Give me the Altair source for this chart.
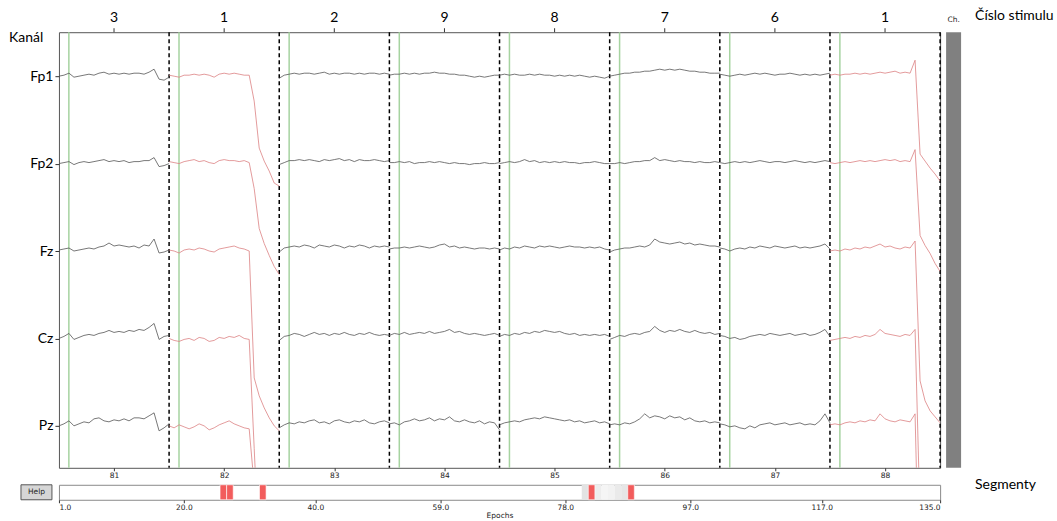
import json
import pandas as pd
import altair as alt

# ---------------- data ----------------
CHANNELS = ["Fp1", "Fp2", "Fz", "Cz", "Pz"]
EPOCHS = [81, 82, 83, 84, 85, 86, 87, 88]
STIMULI = ["3", "1", "2", "9", "8", "7", "6", "1"]
REJECTED = [82, 88]
STIM_ONSET = 0.09          # stimulus onset, fraction of an epoch
SEG_RANGE = [1, 135]
SEG_TICKS = [1.0, 20.0, 40.0, 59.0, 78.0, 97.0, 117.0, 135.0]
SEG_REJECTED = [26, 27, 32, 82, 88]
SEG_WINDOW = [81, 82, 83, 84, 85, 86, 87, 88]

# amplitudes (screen-px units, up = positive), 23 samples per epoch
FP1 = [
    [0, 1, 3, -1, 0, 1, 2, 1, 3, 4, 2, 3, 2, 3, 2, 3, 3, 2, 4, 7, -3, -4, -1],
    [1, 0, -1, 1, 1, 2, 1, 2, 1, -1, 2, 3, 2, 3, 2, 1, 1, -25, -72, -85, -95, -107, -110],
    [-2, 1, 2, 3, 2, 3, 3, 2, 3, 4, 2, 3, 2, 3, 3, 2, 3, 2, 3, 3, 2, 3, 2],
    [1, 2, 2, 3, 2, 3, 2, 3, 3, 4, 3, 3, 2, 2, 1, 1, 0, -1, 0, -1, 0, 1, 1],
    [1, 2, 1, 2, 1, 1, 2, 1, 2, 1, 1, 0, 1, 0, 1, 0, 1, 0, -1, 0, -1, -2, 0],
    [0, 1, 2, 3, 3, 4, 4, 5, 5, 6, 7, 6, 7, 6, 7, 6, 5, 5, 4, 4, 3, 3, 3],
    [2, 1, 0, 1, 2, 1, 2, 3, 2, 3, 2, 1, 2, 2, 3, 2, 1, 2, 1, 2, 1, 2, 3],
    [1, 2, 1, 2, 2, 3, 2, 3, 2, 3, 4, 3, 4, 5, 3, 4, 3, 16, -78, -85, -92, -98, -105],
]
FP2 = [
    [0, 1, 2, -1, 1, 2, 1, 2, 3, 4, 2, 3, 2, 3, 1, 2, 2, 3, 3, 6, -3, -2, 0],
    [2, 1, 0, 2, 3, 4, 2, 3, 1, 0, 3, 4, 3, 3, 2, 3, 1, -25, -65, -80, -92, -103, -111],
    [-1, 1, 3, 3, 4, 3, 4, 3, 2, 4, 3, 4, 5, 3, 4, 2, 4, 3, 3, 4, 3, 2, 3],
    [1, 1, 2, 1, 2, 0, 1, 1, 2, 1, 2, 1, 0, 1, 0, 0, -1, 0, 0, 1, 0, 0, 1],
    [0, 1, 2, 1, 2, 4, 2, 3, 1, 2, 1, 2, 1, 2, 1, 1, 0, 1, 1, 2, 1, 0, 0],
    [0, 0, 1, 0, 1, 2, 2, 3, 3, 6, 3, 4, 3, 2, 3, 2, 2, 1, 2, 1, 1, 2, 1],
    [1, 0, 1, 2, 1, 2, 1, 2, 3, 2, 1, 2, 2, 1, 2, 3, 2, 1, 2, 1, 2, 3, 2],
    [1, 0, 1, 2, 1, 2, 3, 2, 3, 2, 3, 4, 3, 4, 2, 3, 2, 14, -72, -82, -90, -100, -108],
]
FZ = [
    [1, 2, 3, 0, 1, 2, 3, 2, 4, 5, 8, 5, 6, 5, 4, 5, 3, 6, 5, 12, -2, -1, 1],
    [1, 0, -2, 1, 2, 1, 3, 2, 0, -1, 2, 3, 4, 5, 3, 2, 0, -127, -145, -157, -167, -175, -180],
    [-1, 3, 4, 5, 4, 6, 5, 3, 6, 5, 4, 6, 5, 3, 5, 4, 6, 5, 3, 5, 4, 5, 4],
    [2, 3, 3, 4, 3, 4, 5, 4, 3, 4, 6, 7, 4, 5, 3, 4, 3, 2, 3, 3, 2, 3, 2],
    [1, 3, 2, 4, 3, 5, 4, 3, 5, 4, 5, 4, 3, 4, 5, 4, 4, 3, 4, 3, 4, 2, 1],
    [-1, 1, 2, 3, 3, 4, 5, 4, 6, 12, 9, 8, 7, 8, 9, 7, 8, 6, 7, 6, 5, 5, 4],
    [3, 2, 0, 2, 3, 2, 4, 3, 5, 4, 3, 5, 4, 3, 4, 5, 3, 4, 3, 4, 5, 7, 2],
    [0, 1, 0, 2, 1, 3, 2, 4, 3, 5, 7, 4, 5, 3, 2, 4, 3, 10, -130, -150, -160, -166, -172],
]
CZ = [
    [0, 2, 5, -1, 1, 3, 4, 3, 5, 6, 8, 6, 7, 6, 8, 7, 9, 8, 11, 15, -1, 2, 3],
    [0, -2, -3, -1, 0, -2, 1, 0, -3, -2, 1, 0, 2, 1, 3, 0, -1, -110, -220, -240, -250, -255, -260],
    [-2, 2, 3, 5, 4, 2, 4, 6, 4, 5, 3, 5, 4, 6, 4, 3, 5, 4, 6, 4, 3, 4, 3],
    [3, 5, 4, 6, 4, 5, 6, 5, 7, 5, 6, 7, 9, 6, 7, 5, 4, 5, 4, 3, 4, 5, 3],
    [2, 4, 3, 5, 4, 6, 5, 7, 6, 8, 7, 6, 7, 5, 4, 5, 3, 4, 3, 4, 3, 4, 2],
    [-1, 1, 3, 2, 4, 5, 4, 6, 7, 12, 8, 6, 8, 7, 9, 7, 6, 8, 6, 5, 6, 4, 5],
    [3, 2, 0, 1, -1, 0, 2, 3, 4, 3, 5, 4, 3, 4, 5, 3, 4, 5, 3, 4, 6, 9, 2],
    [-2, -1, 0, 1, 0, 2, 1, 3, 2, 4, 9, 5, 4, 3, 2, 4, 3, 9, -180, -220, -230, -240, -250],
]
PZ = [
    [0, 2, 5, 0, 2, 4, 3, 7, 8, 5, 4, 6, 5, 7, 5, 8, 8, 7, 10, 13, -5, -2, 2],
    [0, -2, 1, -1, -3, -1, 2, 0, -4, -2, 1, 3, 5, 2, 0, -2, -3, -60, -220, -240, -250, -260, -270],
    [-2, 1, 3, 2, 4, 3, 5, 6, 3, 4, 2, 5, 6, 4, 3, 5, 4, 6, 3, 2, 4, 5, 3],
    [2, 3, 1, 4, 5, 7, 5, 6, 8, 5, 7, 6, 9, 5, 4, 6, 4, 3, 5, 2, 4, 3, -4],
    [1, 3, 4, 5, 4, 6, 7, 8, 7, 9, 8, 7, 6, 5, 6, 4, 5, 3, 4, 5, 3, 4, 2],
    [1, 2, 1, 3, 2, 4, 7, 12, 8, 10, 9, 7, 10, 8, 9, 6, 8, 5, 4, 5, 3, 4, 3],
    [2, 1, -1, 0, -2, -3, 0, -2, 1, 2, 3, 1, 2, 3, 1, 2, 3, 1, 2, 1, 5, 12, 3],
    [1, 2, 1, 3, 4, 3, 5, 4, 6, 5, 12, 7, 5, 4, 6, 5, 4, 12, -200, -230, -240, -250, -260],
]

# ---------------- layout / style ----------------
SP = 87.5                 # vertical spacing between channels
W, H = 882, 436
FONT = "Lato"
SMALL = "DejaVu Sans"
WINDOW_SHADES = ["#e3e3e3", "#e3e3e3", "#ededed", "#f5f5f5", "#f2f2f2", "#eaeaea", "#e6e6e6", "#e6e6e6"]

rows = []
for k, (name, series) in enumerate(zip(CHANNELS, [FP1, FP2, FZ, CZ, PZ])):
    for e, vals in enumerate(series):
        n = len(vals)
        for i, v in enumerate(vals):
            rows.append({
                "x": e + i / (n - 1),
                "y": -k * SP + v,
                "key": f"{name}-{EPOCHS[e]}",
                "state": "rejected" if EPOCHS[e] in REJECTED else "ok",
            })
traces_df = pd.DataFrame(rows)

epochs_df = pd.DataFrame({
    "x": [i + 0.5 for i in range(len(EPOCHS))],
    "stim": STIMULI,
})
onset_df = pd.DataFrame({"x": [i + STIM_ONSET for i in range(len(EPOCHS))]})
bound_df = pd.DataFrame({"x": [i + 1 for i in range(len(EPOCHS))]})
one_df = pd.DataFrame({"t": ["x"]})

x_scale = alt.Scale(domain=[0, len(EPOCHS)], nice=False, zero=False)
y_scale = alt.Scale(domain=[-(len(CHANNELS) - 1) * SP - 42, 44], nice=False, zero=False)

x_enc = alt.X(
    "x:Q", scale=x_scale,
    axis=alt.Axis(
        values=[i + 0.5 for i in range(len(EPOCHS))],
        labelExpr=json.dumps([str(e) for e in EPOCHS]) + "[floor(datum.value)]",
        orient="bottom", title=None, grid=False, domain=False,
        tickSize=3, tickColor="#333", labelFont=SMALL, labelFontSize=7.5,
        labelColor="#222", labelPadding=1,
    ),
)
y_enc = alt.Y(
    "y:Q", scale=y_scale,
    axis=alt.Axis(
        values=[-k * SP for k in range(len(CHANNELS))],
        labelExpr=json.dumps(CHANNELS) + "[round(-datum.value / %s)]" % SP,
        title=None, grid=False, domain=False, tickSize=4, tickColor="#333",
        labelFont=FONT, labelFontSize=14, labelColor="black", labelPadding=2,
    ),
)

anchor = alt.Chart(one_df).mark_rect(color="white").encode(
    x=alt.value(-58), x2=alt.value(-57), y=alt.value(-31), y2=alt.value(-30)
)
onsets = alt.Chart(onset_df).mark_rule(color="#a6d3a0", strokeWidth=1.5).encode(x=x_enc)
bounds = alt.Chart(bound_df).mark_rule(color="black", strokeWidth=1.5, strokeDash=[4, 3]).encode(x=x_enc)
traces = alt.Chart(traces_df).mark_line(clip=True, strokeWidth=0.8).encode(
    x=x_enc, y=y_enc, detail="key:N",
    color=alt.Color("state:N", scale=alt.Scale(domain=["ok", "rejected"], range=["#555555", "#dc8283"]), legend=None),
)
top_labels = alt.Chart(epochs_df).mark_text(font=FONT, fontSize=14, color="black", baseline="middle").encode(
    x=x_enc, y=alt.value(-14), text="stim:N"
)
top_ticks = alt.Chart(epochs_df).mark_rule(color="#333").encode(x=x_enc, y=alt.value(-4), y2=alt.value(0))
ch_bar = alt.Chart(one_df).mark_rect(color="#808080").encode(
    x=alt.value(888), x2=alt.value(903), y=alt.value(0), y2=alt.value(H)
)
ch_text = alt.Chart(pd.DataFrame({"t": ["Ch."]})).mark_text(font=SMALL, fontSize=7.5, color="#222", baseline="middle").encode(
    x=alt.value(895.5), y=alt.value(-12), text="t:N"
)
stim_title = alt.Chart(pd.DataFrame({"t": ["Číslo stimulu"]})).mark_text(font=FONT, fontSize=14, color="black", align="left", baseline="middle").encode(
    x=alt.value(917), y=alt.value(-16), text="t:N"
)
kanal = alt.Chart(pd.DataFrame({"t": ["Kanál"]})).mark_text(font=FONT, fontSize=14, color="black", align="left", baseline="middle").encode(
    x=alt.value(-50), y=alt.value(6), text="t:N"
)

main = alt.layer(
    anchor, onsets, bounds, traces, top_labels, top_ticks, ch_bar, ch_text, stim_title, kanal
).properties(width=W, height=H, view=alt.ViewBackground(stroke="#555", strokeWidth=1))

# ---------------- segment bar ----------------
win_df = pd.DataFrame({
    "start": [e - 0.5 for e in SEG_WINDOW],
    "end": [e + 0.5 for e in SEG_WINDOW],
    "shade": WINDOW_SHADES,
})
rej_df = pd.DataFrame({
    "start": [e - 0.5 for e in SEG_REJECTED],
    "end": [e + 0.5 for e in SEG_REJECTED],
})
seg_x = alt.X(
    "start:Q", scale=alt.Scale(domain=SEG_RANGE, nice=False, zero=False),
    axis=alt.Axis(
        values=SEG_TICKS, format=".1f", title="Epochs", grid=False, domain=False,
        tickSize=3, tickColor="#333", labelFont=SMALL, labelFontSize=7.5, labelColor="#222",
        labelPadding=1, titleFont=SMALL, titleFontSize=7.5, titleFontWeight="normal",
        titleColor="#222", titlePadding=0,
    ),
)
seg_win = alt.Chart(win_df).mark_rect().encode(x=seg_x, x2="end:Q", color=alt.Color("shade:N", scale=None))
seg_rej = alt.Chart(rej_df).mark_rect(color="#f25c5c", stroke="white", strokeWidth=0.6).encode(x=seg_x, x2="end:Q")
help_btn = alt.Chart(one_df).mark_rect(color="#d6d6d6", stroke="#555", strokeWidth=1).encode(
    x=alt.value(-38), x2=alt.value(-7), y=alt.value(0), y2=alt.value(15)
)
help_txt = alt.Chart(pd.DataFrame({"t": ["Help"]})).mark_text(font=SMALL, fontSize=7.5, color="#222", baseline="middle").encode(
    x=alt.value(-22.5), y=alt.value(7.5), text="t:N"
)
seg_title = alt.Chart(pd.DataFrame({"t": ["Segmenty"]})).mark_text(font=FONT, fontSize=14, color="black", align="left", baseline="middle").encode(
    x=alt.value(917), y=alt.value(0), text="t:N"
)
seg = alt.layer(seg_win, seg_rej, help_btn, help_txt, seg_title).properties(
    width=W, height=15, view=alt.ViewBackground(stroke="#8a8a8a", strokeWidth=1)
)

chart = alt.vconcat(main, seg, spacing=17, bounds="flush").properties(
    padding={"left": 0, "top": 0, "right": 2, "bottom": 2}, background="white"
)

chart.save("out.html", embed_options={"renderer": "svg", "actions": False})
